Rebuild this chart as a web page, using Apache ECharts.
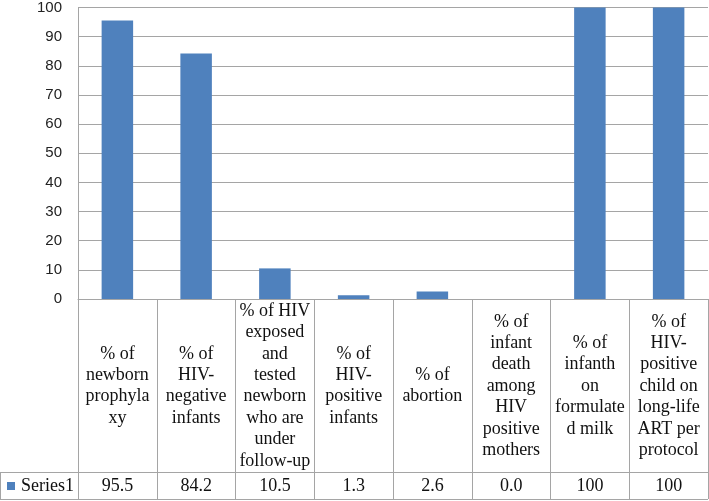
<!DOCTYPE html>
<html>
<head>
<meta charset="utf-8">
<script src="https://cdn.jsdelivr.net/npm/echarts@6/dist/echarts.min.js"></script>
<style>
html,body{margin:0;padding:0;background:#fff;}
#chart{width:709px;height:501px;}
</style>
</head>
<body>
<div id="chart"></div>
<script>
const categories = [
  "% of\nnewborn\nprophyla\nxy",
  "% of\nHIV-\nnegative\ninfants",
  "% of HIV\nexposed\nand\ntested\nnewborn\nwho are\nunder\nfollow-up",
  "% of\nHIV-\npositive\ninfants",
  "% of\nabortion",
  "% of\ninfant\ndeath\namong\nHIV\npositive\nmothers",
  "% of\ninfanth\non\nformulate\nd milk",
  "% of\nHIV-\npositive\nchild on\nlong-life\nART per\nprotocol"
];
const seriesName = "Series1";
const values = [95.5, 84.2, 10.5, 1.3, 2.6, 0.0, 100, 100];
const valueLabels = ["95.5", "84.2", "10.5", "1.3", "2.6", "0.0", "100", "100"];
const yMin = 0, yMax = 100, yStep = 10;

const lineColor = '#a5a5a5';
const serif = '"Liberation Serif", "Times New Roman", serif';

const chart = echarts.init(document.getElementById('chart'), null, {renderer: 'canvas'});
chart.setOption({
  animation: false,
  backgroundColor: '#ffffff',
  grid: {left: 78, right: 1, top: 6, bottom: 202, containLabel: false},
  legend: {
    data: [seriesName],
    left: 7, top: 477, padding: 0,
    icon: 'rect', itemWidth: 8, itemHeight: 8, itemGap: 5,
    textStyle: {fontFamily: serif, fontSize: 18, color: '#111', padding: [0, 0, 0, 1]}
  },
  xAxis: [
    {
      type: 'category', data: categories, position: 'bottom',
      axisLine: {show: true, lineStyle: {color: lineColor, width: 1}},
      axisTick: {show: true, length: 200, lineStyle: {color: lineColor, width: 1}},
      axisLabel: {
        interval: 0, margin: 87, verticalAlign: 'middle', align: 'center',
        fontFamily: serif, fontSize: 18, lineHeight: 21.4, color: '#111',
        hideOverlap: false
      },
      splitLine: {show: false}
    },
    {
      type: 'category', data: valueLabels, position: 'bottom', offset: 173,
      axisLine: {show: false}, axisTick: {show: false},
      axisLabel: {
        interval: 0, margin: 14, verticalAlign: 'middle', align: 'center',
        fontFamily: serif, fontSize: 18, color: '#111', hideOverlap: false
      }
    }
  ],
  yAxis: {
    type: 'value', min: yMin, max: yMax, interval: yStep,
    axisLine: {show: true, lineStyle: {color: lineColor}},
    axisTick: {show: false},
    splitLine: {show: true, lineStyle: {color: lineColor, width: 1}},
    axisLabel: {margin: 16, fontFamily: '"Liberation Sans", Arial, sans-serif', fontSize: 15, color: '#222'}
  },
  series: [{
    name: seriesName, type: 'bar', data: values, xAxisIndex: 0,
    barWidth: '40%', itemStyle: {color: '#4f81bd'}
  }],
  graphic: [
    {type: 'line', shape: {x1: 0, y1: 472.5, x2: 708, y2: 472.5}, style: {stroke: lineColor, lineWidth: 1}, silent: true},
    {type: 'line', shape: {x1: 0, y1: 499.5, x2: 708, y2: 499.5}, style: {stroke: lineColor, lineWidth: 1}, silent: true},
    {type: 'line', shape: {x1: 0.5, y1: 472, x2: 0.5, y2: 500}, style: {stroke: lineColor, lineWidth: 1}, silent: true}
  ]
});
</script>
</body>
</html>
